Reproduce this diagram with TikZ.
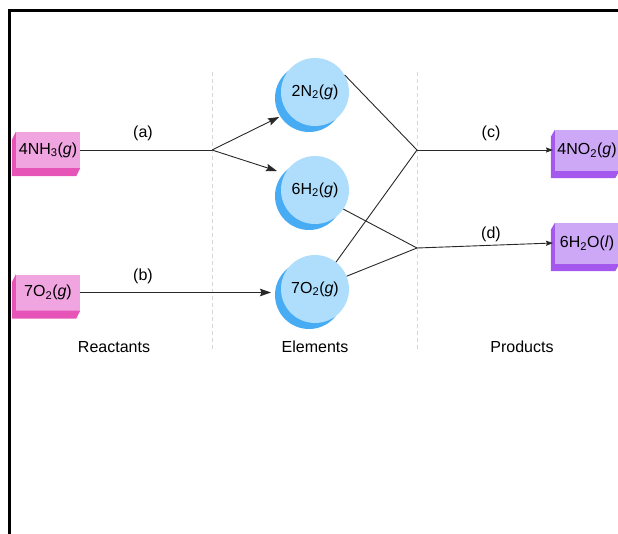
\documentclass[tikz,border=0pt]{standalone}
\usepackage{fontspec}
\setmainfont{Liberation Sans}
\usetikzlibrary{arrows.meta,shadows}
\definecolor{pinkL}{RGB}{240,164,224}
\definecolor{pinkD}{RGB}{230,84,184}
\definecolor{purpL}{RGB}{204,168,246}
\definecolor{purpD}{RGB}{164,88,238}
\definecolor{blueL}{RGB}{174,222,252}
\definecolor{blueD}{RGB}{72,172,244}
\definecolor{lineC}{RGB}{40,40,40}
\definecolor{sepC}{RGB}{215,215,215}
\tikzset{
  every node/.style={font=\fontsize{16}{19}\selectfont},
  reactbox/.style={rectangle, fill=pinkL, minimum width=64pt, minimum height=36pt, inner sep=0pt},
  prodbox/.style={rectangle, fill=purpL, minimum width=64pt, minimum height=41pt, inner sep=0pt},
  elem/.style={circle, fill=blueL, minimum size=68pt, inner sep=0pt,
    drop shadow={shadow xshift=-6pt, shadow yshift=-6pt, fill=blueD, opacity=1}},
  conn/.style={draw=lineC, line width=0.9pt},
  bigarr/.style={conn, -{Stealth[length=11pt,width=7.5pt,inset=1.5pt]}},
  smallarr/.style={conn, -{Stealth[length=7pt,width=5pt,inset=1pt]}},
  sep/.style={draw=sepC, line width=0.8pt, dash pattern=on 4pt off 3pt},
  lbl/.style={inner sep=0pt}
}
\begin{document}
\begin{tikzpicture}[x=1pt,y=-1pt]
\useasboundingbox (0,0) rectangle (618,533);
\clip (0,0) rectangle (618,533);
% frame
\draw[line width=3pt, line join=miter] (630,10.3) -- (9.5,10.3) -- (9.5,545);
% separators
\draw[sep] (212,72) -- (212,352);
\draw[sep] (417,72) -- (417,352);
% reactant boxes
\node[reactbox] (r1) at (48,150) {4NH\textsubscript{3}(\textit{g})};
\fill[pinkD] (r1.north west) -- ++(-4,8) -- ([shift={(-4,8)}]r1.south west) -- ([shift={(-4,8)}]r1.south east) -- (r1.south east) -- (r1.south west) -- cycle;
\node[reactbox] (r2) at (48,292.5) {7O\textsubscript{2}(\textit{g})};
\fill[pinkD] (r2.north west) -- ++(-4,8) -- ([shift={(-4,8)}]r2.south west) -- ([shift={(-4,8)}]r2.south east) -- (r2.south east) -- (r2.south west) -- cycle;
% product boxes
\node[prodbox] (p1) at (587,150.5) {4NO\textsubscript{2}(\textit{g})};
\fill[purpD] (p1.north west) -- ++(-4,7) -- ([shift={(-4,7)}]p1.south west) -- ([shift={(-4,7)}]p1.south east) -- (p1.south east) -- (p1.south west) -- cycle;
\node[prodbox] (p2) at (587,243.5) {6H\textsubscript{2}O(\textit{l})};
\fill[purpD] (p2.north west) -- ++(-4,7) -- ([shift={(-4,7)}]p2.south west) -- ([shift={(-4,7)}]p2.south east) -- (p2.south east) -- (p2.south west) -- cycle;
% junctions and tips
\coordinate (ja) at (212,150);
\coordinate (jc) at (417,150);
\coordinate (jd) at (417,248);
\coordinate (tn) at (279,117);
\coordinate (th) at (277,171);
\coordinate (to) at (271,292.5);
\coordinate (tc) at (553,150);
\coordinate (td) at (553,243);
% element circles
\node[elem] (n2) at (315,92) {2N\textsubscript{2}(\textit{g})};
\node[elem] (h2) at (315,190) {6H\textsubscript{2}(\textit{g})};
\node[elem] (o2) at (315,289) {7O\textsubscript{2}(\textit{g})};
% connectors
\draw[conn] (r1.east) -- (ja);
\draw[bigarr] (ja) -- (tn);
\draw[bigarr] (ja) -- (th);
\draw[bigarr] (r2.east) -- (to);
\draw[conn] (n2.30) -- (jc);
\draw[conn] (o2.52) -- (jc);
\draw[conn] (h2.-34) -- (jd);
\draw[conn] (o2.22) -- (jd);
\draw[smallarr] (jc) -- (tc);
\draw[smallarr] (jd) -- (td);
% labels
\node[lbl] (la) at (143,133) {(a)};
\node[lbl] (lb) at (143,276) {(b)};
\node[lbl] (lc) at (491,133) {(c)};
\node[lbl] (ld) at (491,234) {(d)};
\node[lbl] (lr) at (114,347) {Reactants};
\node[lbl] (le) at (315,347) {Elements};
\node[lbl] (lp) at (522,347) {Products};
\end{tikzpicture}
\end{document}
